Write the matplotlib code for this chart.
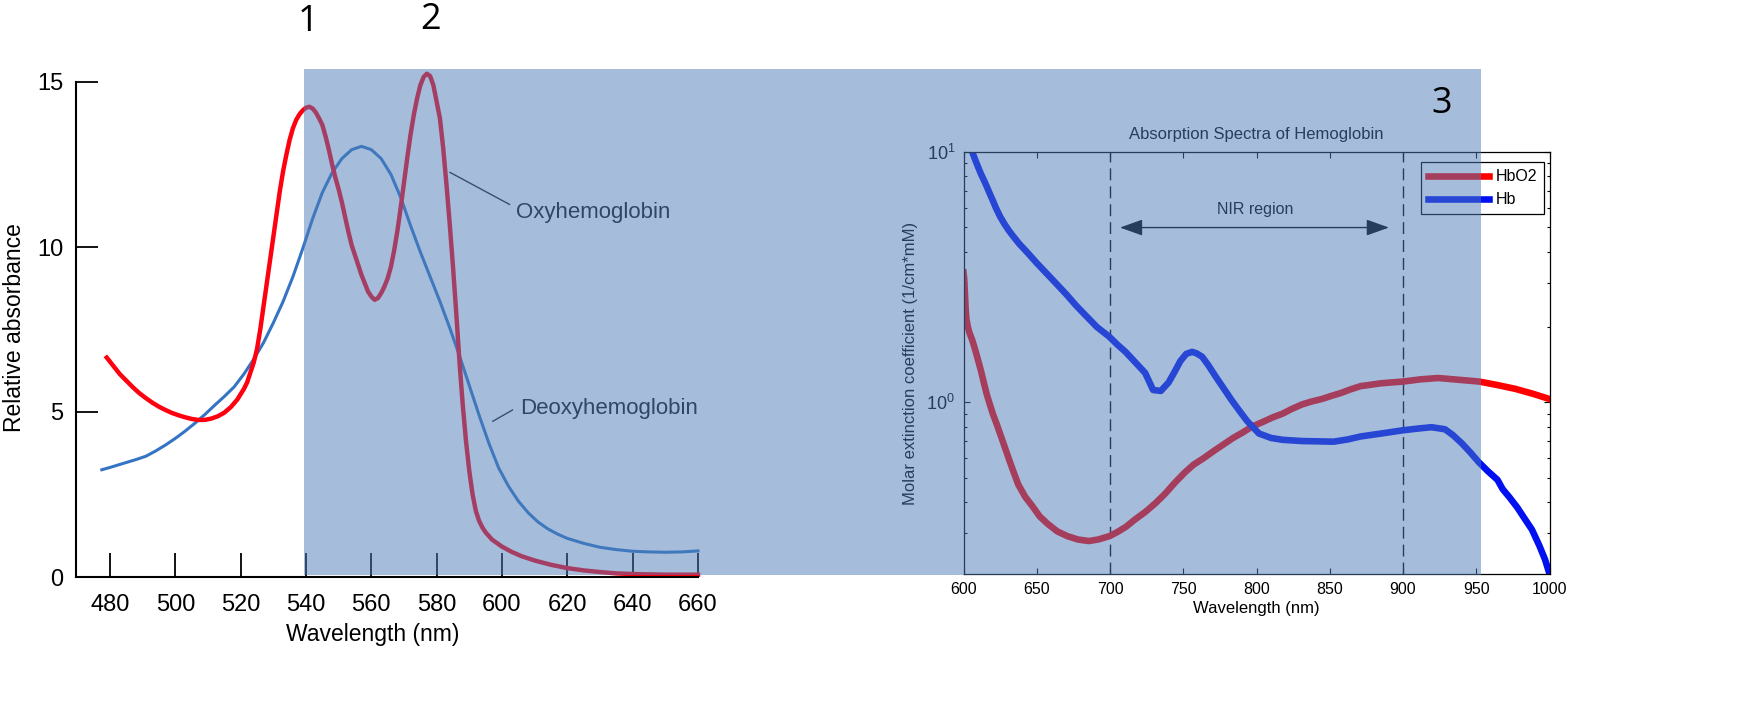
import matplotlib
matplotlib.use("Agg")
import matplotlib.pyplot as plt
from matplotlib.patches import Rectangle
from matplotlib.ticker import NullFormatter, NullLocator, LogLocator

plt.rcParams['font.family'] = ['Liberation Sans', 'DejaVu Sans']

# --- left panel: relative absorbance, 480-660 nm ---
oxy_wl = [479, 481, 483, 485, 487, 489, 491, 493, 495, 497, 499, 501, 503, 505,
          507, 509, 511, 513, 515, 517, 519, 521, 522, 523, 524, 525, 526, 527,
          528, 529, 530, 531, 532, 533, 534, 535, 536, 537, 538, 539, 540, 541,
          542, 543, 544, 545, 546, 547, 548, 549, 550, 551, 552, 553, 554, 555,
          556, 557, 558, 559, 560, 561, 562, 563, 564, 565, 566, 567, 568, 569,
          570, 571, 572, 573, 574, 575, 576, 577, 578, 579, 580, 581, 582, 583,
          584, 585, 586, 587, 588, 589, 590, 591, 592, 593, 594, 595, 597, 600,
          603, 606, 610, 615, 620, 625, 630, 635, 640, 650, 660]
oxy_abs = [6.65, 6.4, 6.15, 5.95, 5.75, 5.57, 5.42, 5.28, 5.16, 5.06, 4.97, 4.9,
           4.84, 4.79, 4.76, 4.76, 4.8, 4.87, 4.98, 5.15, 5.38, 5.7, 5.9, 6.2,
           6.5, 6.9, 7.5, 8.2, 8.9, 9.6, 10.3, 11.0, 11.7, 12.3, 12.8, 13.25,
           13.6, 13.85, 14.02, 14.14, 14.22, 14.25, 14.2, 14.08, 13.9, 13.7,
           13.35, 12.95, 12.5, 12.1, 11.75, 11.35, 10.9, 10.45, 10.05, 9.75, 9.45,
           9.15, 8.9, 8.65, 8.5, 8.4, 8.45, 8.6, 8.8, 9.05, 9.4, 9.9, 10.5, 11.2,
           11.95, 12.7, 13.4, 14.0, 14.5, 14.9, 15.15, 15.25, 15.18, 14.9, 14.4,
           13.9, 13.0, 11.9, 10.7, 9.4, 8.0, 6.5, 5.2, 4.1, 3.2, 2.5, 2.0, 1.7,
           1.5, 1.35, 1.13, 0.92, 0.76, 0.63, 0.5, 0.37, 0.27, 0.2, 0.15, 0.11,
           0.09, 0.07, 0.07]

deoxy_wl = [477.5, 480, 484, 488, 491, 494, 497, 500, 503, 506, 509, 512, 515, 518,
            521, 524, 527, 530, 533, 536, 539, 542, 545, 548, 551, 554, 557, 560,
            563, 566, 569, 572, 575, 578, 581, 584, 587, 590, 593, 596, 599, 602,
            605, 608, 611, 614, 617, 620, 625, 630, 635, 640, 645, 650, 655, 660]
deoxy_abs = [3.25, 3.32, 3.44, 3.56, 3.66, 3.82, 4.0, 4.2, 4.42, 4.66, 4.92, 5.2,
             5.47, 5.76, 6.15, 6.6, 7.1, 7.7, 8.35, 9.1, 9.95, 10.85, 11.65, 12.25,
             12.68, 12.95, 13.05, 12.95, 12.68, 12.2, 11.5, 10.65, 9.85, 9.1, 8.35,
             7.55, 6.7, 5.8, 4.9, 4.05, 3.3, 2.75, 2.3, 1.95, 1.67, 1.46, 1.3, 1.17,
             1.02, 0.9, 0.83, 0.78, 0.76, 0.75, 0.76, 0.79]

left_xticks = [480, 500, 520, 540, 560, 580, 600, 620, 640, 660]
left_yticks = [0, 5, 10, 15]

# --- right panel: molar extinction coefficient, 600-1000 nm ---
hbo2_wl = [600, 600.5, 601, 601.5, 602, 603, 604, 606, 608, 610, 612, 614, 616,
           618, 620, 622.7, 626, 630.7, 634, 637.4, 642, 646.8, 652, 657.4, 664,
           670.8, 678, 685.5, 692, 699.7, 705, 710.9, 717, 724.2, 731, 737.6, 744,
           751, 757, 764.3, 771, 777.7, 784, 791, 797, 804.4, 811, 817.7, 824, 831,
           837, 844.5, 851, 857.8, 864, 871, 878, 884.5, 892, 900, 912, 924, 938,
           952, 965, 977, 989, 1000]
hbo2_eps = [3.3, 3.1, 2.7, 2.35, 2.15, 2.0, 1.9, 1.77, 1.62, 1.47, 1.33, 1.19,
            1.07, 0.98, 0.9, 0.817, 0.72, 0.60, 0.53, 0.469, 0.42, 0.386, 0.35,
            0.327, 0.305, 0.292, 0.283, 0.279, 0.283, 0.292, 0.303, 0.318, 0.34,
            0.365, 0.395, 0.431, 0.475, 0.524, 0.563, 0.60, 0.64, 0.68, 0.72, 0.76,
            0.80, 0.835, 0.87, 0.90, 0.94, 0.98, 1.005, 1.03, 1.06, 1.09, 1.125,
            1.16, 1.175, 1.19, 1.20, 1.21, 1.235, 1.25, 1.23, 1.21, 1.17, 1.13,
            1.08, 1.03]

hb_wl = [604, 606, 608, 610, 612, 614, 616, 618, 620, 622, 625, 628, 631, 634,
         638, 643.7, 650, 657, 664, 670.4, 677, 683.8, 691, 699.4, 705, 710.6, 717,
         724, 729.4, 734.7, 740, 744, 748, 752, 756, 759, 762.9, 767, 772, 777,
         783, 788, 793.7, 801.7, 810, 817.8, 831, 842, 852.6, 862, 871, 885, 900,
         910, 919.5, 928.7, 934, 940, 946, 952, 958, 964.5, 968, 972.7, 978, 983,
         988, 993, 997, 1000]
hb_eps = [10.9, 10.0, 9.3, 8.7, 8.15, 7.7, 7.25, 6.8, 6.4, 6.0, 5.52, 5.15, 4.85,
          4.6, 4.3, 3.96, 3.6, 3.26, 2.95, 2.69, 2.43, 2.21, 2.0, 1.83, 1.7, 1.59,
          1.45, 1.31, 1.12, 1.11, 1.20, 1.32, 1.46, 1.56, 1.59, 1.57, 1.52, 1.41,
          1.27, 1.15, 1.02, 0.93, 0.84, 0.75, 0.72, 0.708, 0.70, 0.698, 0.696,
          0.71, 0.73, 0.75, 0.773, 0.785, 0.795, 0.78, 0.74, 0.687, 0.63, 0.574,
          0.53, 0.49, 0.45, 0.417, 0.38, 0.343, 0.31, 0.268, 0.235, 0.206]

right_xticks = [600, 650, 700, 750, 800, 850, 900, 950, 1000]
nir_bounds = [700, 900]

W, H = 1737, 717


def box(x0, y0, x1, y1):
    # pixel box (top-left origin) -> figure fraction rect
    return [x0 / W, 1 - y1 / H, (x1 - x0) / W, (y1 - y0) / H]


fig = plt.figure(figsize=(W / 100, H / 100), dpi=100)

# left panel
ax1 = fig.add_axes(box(76, 82, 698, 577))
ax1.plot(deoxy_wl, deoxy_abs, color='#3474c4', lw=2.2, clip_on=False)
ax1.plot(oxy_wl, oxy_abs, color='#ff0010', lw=3.2, clip_on=False)
ax1.set_xlim(469.6, 660)
ax1.set_ylim(0, 15)
ax1.set_xticks(left_xticks)
ax1.set_yticks(left_yticks)
for s in ['top', 'right']:
    ax1.spines[s].set_visible(False)
for s in ['left', 'bottom']:
    ax1.spines[s].set_linewidth(1.5)
ax1.tick_params(axis='x', direction='in', length=17, width=1.3, labelsize=17, pad=12)
ax1.tick_params(axis='y', direction='in', length=16, width=1.3, labelsize=17, pad=9)

ax1.plot([584.1, 602.3], [12.26, 11.29], color='#222222', lw=1)
ax1.text(604.4, 11.04, 'Oxyhemoglobin', fontsize=16, va='center', ha='left', color='#111111')
ax1.plot([597.2, 603.2], [4.72, 5.06], color='#222222', lw=1)
ax1.text(605.7, 5.12, 'Deoxyhemoglobin', fontsize=16, va='center', ha='left', color='#111111')

fig.text(14.5 / W, 1 - 328 / H, 'Relative absorbance', rotation=90,
         fontsize=16.5, ha='center', va='center')
fig.text(373 / W, 1 - 635 / H, 'Wavelength (nm)', fontsize=16.5, ha='center', va='center')

# right panel
ax2 = fig.add_axes(box(963.5, 152, 1549.5, 574))
l1, = ax2.plot(hbo2_wl, hbo2_eps, color='#ff0000', lw=4.75, label='HbO2')
l2, = ax2.plot(hb_wl, hb_eps, color='#0010f0', lw=4.75, label='Hb')
ax2.set_yscale('log')
ax2.set_xlim(600, 1000)
ax2.set_ylim(0.206, 10)
ax2.set_xticks(right_xticks)
ax2.xaxis.set_minor_locator(NullLocator())
ax2.yaxis.set_major_locator(LogLocator(base=10))
ax2.yaxis.set_minor_formatter(NullFormatter())
for s in ax2.spines.values():
    s.set_linewidth(0.9)
ax2.tick_params(which='both', direction='in', top=True, right=True, width=0.8,
                labelsize=11.5)
ax2.tick_params(which='major', length=4.5, pad=6)
ax2.tick_params(which='minor', length=2.5)
ax2.tick_params(axis='y', labelsize=13)

for b in nir_bounds:
    ax2.axvline(b, color='black', lw=1, linestyle=(0, (8.6, 4.3)), zorder=1)
ax2.annotate('', xy=(706.8, 4.99), xytext=(890.4, 4.99),
             arrowprops=dict(arrowstyle='<|-|>,head_length=0.7,head_width=0.25',
                             mutation_scale=20, color='black', lw=1,
                             shrinkA=0, shrinkB=0))
ax2.text(799, 5.91, 'NIR region', fontsize=11.5, ha='center', va='center')

leg = ax2.legend(handles=[l1, l2], loc='upper right', bbox_to_anchor=(0.9906, 0.976),
                 borderaxespad=0, fancybox=False, edgecolor='black', framealpha=1,
                 fontsize=11.5, handlelength=3.8, handletextpad=0.4, borderpad=0.45,
                 labelspacing=0.5)
leg.get_frame().set_linewidth(0.9)

fig.text(1256 / W, 1 - 134 / H, 'Absorption Spectra of Hemoglobin', fontsize=12,
         ha='center', va='center')
fig.text(911 / W, 1 - 363 / H, 'Molar extinction coefficient (1/cm*mM)', rotation=90,
         fontsize=12, ha='center', va='center')
fig.text(1256 / W, 1 - 608 / H, 'Wavelength (nm)', fontsize=12, ha='center', va='center')

# translucent highlight band laid over both panels
band = Rectangle((303.5 / W, 1 - 574.5 / H), (1481 - 303.5) / W, (574.5 - 68.7) / H,
                 transform=fig.transFigure, facecolor=(0.30, 0.49, 0.72), alpha=0.5,
                 edgecolor='none', zorder=5)
fig.add_artist(band)

for txt, x, y in [('1', 308, 22), ('2', 430.6, 19.6), ('3', 1442, 104)]:
    fig.text(x / W, 1 - y / H, txt, fontsize=26, ha='center', va='center',
             family=['Open Sans', 'DejaVu Sans'], zorder=6)

fig.savefig('out.png', dpi=100)
